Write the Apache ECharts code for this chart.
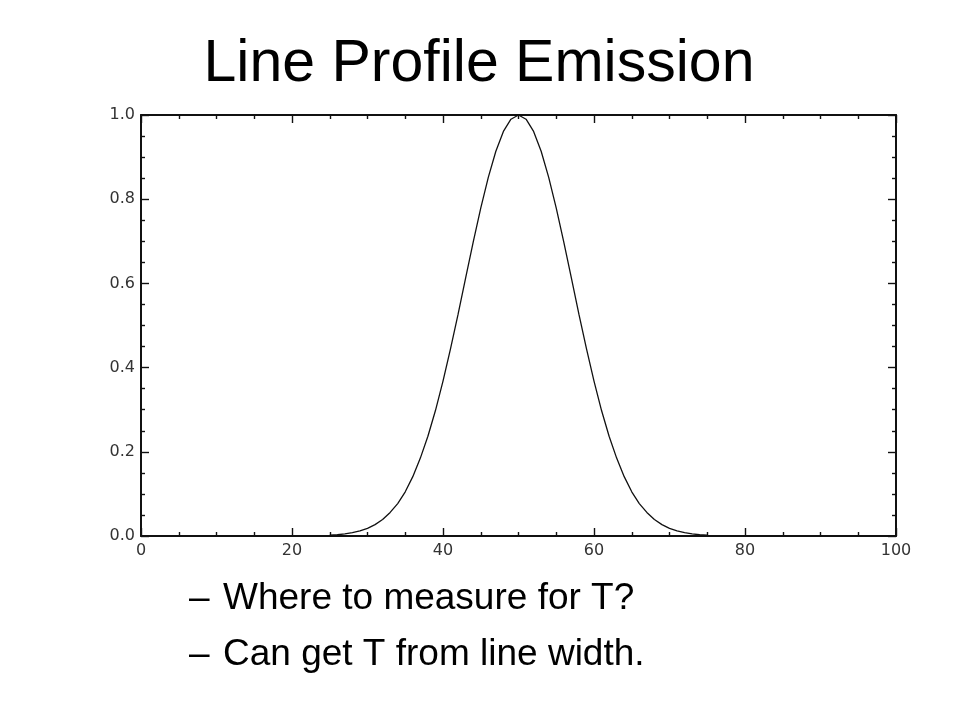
<!DOCTYPE html>
<html>
<head>
<meta charset="utf-8">
<script src="https://cdn.jsdelivr.net/npm/echarts@6/dist/echarts.min.js"></script>
<style>html,body{margin:0;padding:0;background:#fff;}#c{width:960px;height:720px;}</style>
</head>
<body>
<div id="c"></div>
<script>
// Data
var xValues = [25,26,27,28,29,30,31,32,33,34,35,36,37,38,39,40,41,42,43,44,45,46,47,48,49,50,
               51,52,53,54,55,56,57,58,59,60,61,62,63,64,65,66,67,68,69,70,71,72,73,74,75];
var yValues = [0.002,0.003,0.005,0.008,0.012,0.018,0.027,0.039,0.056,0.077,0.105,0.141,0.185,0.237,0.298,0.368,0.445,0.527,0.613,0.698,0.779,0.852,0.914,0.961,0.990,1.000,
               0.990,0.961,0.914,0.852,0.779,0.698,0.613,0.527,0.445,0.368,0.298,0.237,0.185,0.141,0.105,0.077,0.056,0.039,0.027,0.018,0.012,0.008,0.005,0.003,0.002];
var titleText = 'Line Profile Emission';
var bulletMark = '\u2013';
var bullets = ['Where to measure for T?', 'Can get T from line width.'];
var xMin = 0, xMax = 100, xStep = 20;
var yMin = 0, yMax = 1, yStep = 0.2;

var seriesData = xValues.map(function (x, i) { return [x, yValues[i]]; });

var axisColor = '#111';
function makeAxis(isX, pos, showLabel) {
  return {
    type: 'value',
    position: pos,
    min: isX ? xMin : yMin,
    max: isX ? xMax : yMax,
    interval: isX ? xStep : yStep,
    axisLine: { show: true, onZero: false, lineStyle: { color: axisColor, width: 2 } },
    axisTick: { show: true, inside: true, length: 8, lineStyle: { color: axisColor, width: 1.4 } },
    minorTick: { show: true, splitNumber: 4, length: 4, lineStyle: { color: axisColor, width: 1.4 } },
    splitLine: { show: false },
    axisLabel: {
      show: showLabel,
      color: '#333',
      fontFamily: 'DejaVu Sans',
      fontSize: 16,
      margin: isX ? 7 : 6,
      formatter: function (v) { return isX ? String(Math.round(v)) : v.toFixed(1); }
    }
  };
}

var chart = echarts.init(document.getElementById('c'), null, { renderer: 'canvas' });
var graphics = [];
bullets.forEach(function (t, i) {
  graphics.push({
    type: 'text', left: 189, top: 580 + i * 56,
    style: { text: bulletMark, font: '37px "Liberation Sans"', fill: '#000' }
  });
  graphics.push({
    type: 'text', left: 223, top: 580 + i * 56,
    style: { text: t, font: '37px "Liberation Sans"', fill: '#000' }
  });
});
chart.setOption({
  backgroundColor: '#ffffff',
  animation: false,
  title: {
    text: titleText,
    left: 474,
    textAlign: 'center',
    top: 30,
    textStyle: { fontFamily: 'Liberation Sans', fontSize: 59, fontWeight: 'normal', color: '#000' }
  },
  grid: { left: 141, right: 64, top: 115, bottom: 184, containLabel: false },
  xAxis: [makeAxis(true, 'bottom', true), makeAxis(true, 'top', false)],
  yAxis: [makeAxis(false, 'left', true), makeAxis(false, 'right', false)],
  series: [{
    type: 'line',
    data: seriesData,
    xAxisIndex: 0,
    yAxisIndex: 0,
    symbol: 'none',
    smooth: false,
    lineStyle: { color: '#111', width: 1.3 }
  }],
  graphic: graphics
});
</script>
</body>
</html>
